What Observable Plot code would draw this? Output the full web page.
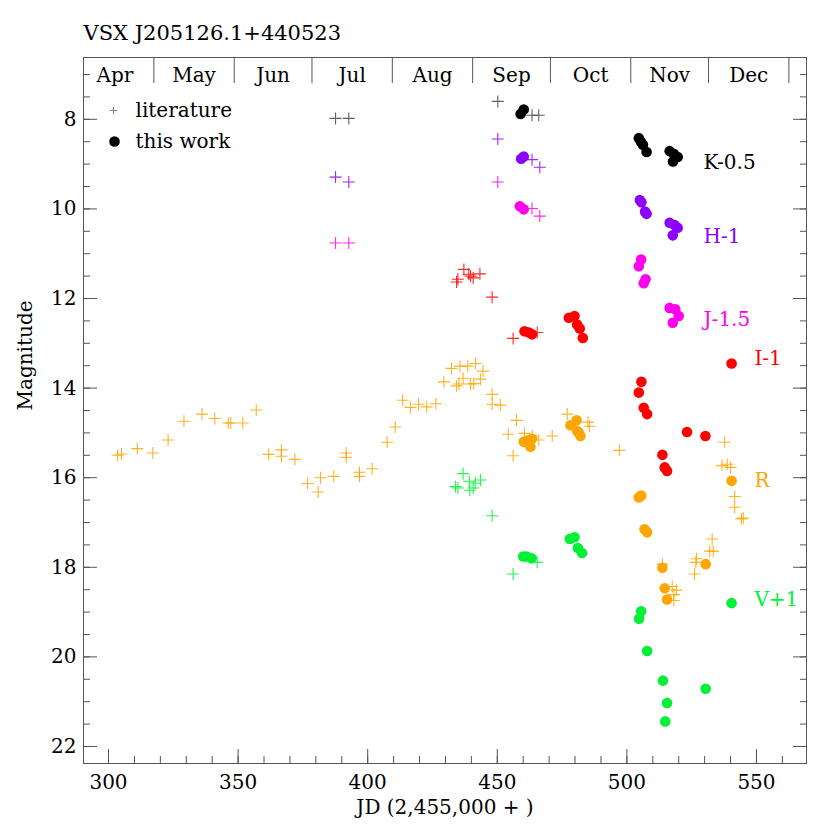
<!DOCTYPE html>
<html><head><meta charset="utf-8">
<script src="https://cdn.jsdelivr.net/npm/d3@7"></script>
<script src="https://cdn.jsdelivr.net/npm/@observablehq/plot@0.6"></script>
<style>body{margin:0;background:#fff}</style>
</head><body><div id="chart"></div>
<script>
// ---- data (JD - 2,455,000, magnitude) ----
const titleText = "VSX J205126.1+440523";
const xLabel = "JD (2,455,000 + )";
const yLabel = "Magnitude";

const monthNames = ["Apr","May","Jun","Jul","Aug","Sep","Oct","Nov","Dec"];
const monthStarts = [287.5,317.5,348.5,378.5,409.5,440.5,470.5,501.5,531.5,562.5];

const xMajor = [300,350,400,450,500,550];
const xMinor = d3.range(300, 561, 10);
const yMajor = [8,10,12,14,16,18,20,22];
const yMinor = d3.range(7, 22.01, 0.5);

const K_lit = [[387.6,7.98],[392.7,7.98],[450.2,7.60],[463.4,7.91],[466.0,7.91]];
const K_work = [[459.0,7.88],[460.2,7.78],[504.6,8.42],[505.4,8.50],[506.2,8.57],[507.6,8.73],[516.5,8.71],[518.1,8.77],[519.6,8.84],[517.8,8.94]];

const H_lit = [[387.6,9.29],[392.7,9.40],[450.2,8.44],[463.4,8.90],[466.4,9.07]];
const H_work = [[459.2,8.88],[460.2,8.83],[505.0,9.80],[505.6,9.85],[507.0,10.06],[507.6,10.11],[516.5,10.31],[518.4,10.36],[519.6,10.42],[517.7,10.59]];

const J_lit = [[387.6,10.76],[392.7,10.76],[450.2,9.40],[463.4,9.99],[466.4,10.16]];
const J_work = [[458.7,9.94],[460.2,10.01],[505.5,11.13],[504.6,11.28],[507.2,11.57],[506.5,11.66],[516.5,12.21],[518.7,12.24],[520.0,12.39],[517.7,12.54]];

const I_lit = [[437.1,11.35],[434.3,11.63],[434.8,11.57],[439.0,11.46],[439.7,11.50],[440.7,11.54],[443.3,11.45],[448.0,11.97],[456.1,12.89],[465.4,12.76]];
const I_work = [[460.5,12.73],[462.2,12.76],[463.4,12.80],[477.6,12.43],[479.8,12.39],[480.8,12.58],[481.8,12.67],[483.0,12.88],[505.6,13.86],[504.6,14.10],[506.5,14.44],[507.8,14.58],[513.7,15.49],[514.6,15.77],[515.5,15.85],[523.2,14.98],[530.3,15.07],[540.4,13.45]];

const R_lit = [[303.5,15.50],[305.0,15.47],[311.1,15.35],[317.1,15.45],[323.0,15.16],[329.1,14.74],[336.1,14.58],[341.0,14.68],[346.2,14.78],[347.2,14.78],[351.8,14.78],[357.0,14.49],[361.8,15.48],[366.7,15.38],[366.7,15.52],[371.9,15.59],[376.8,16.13],[380.9,16.32],[381.8,16.00],[386.9,15.97],[391.7,15.45],[391.7,15.55],[396.8,15.88],[396.8,15.97],[401.7,15.80],[407.5,15.21],[410.6,14.87],[413.5,14.27],[416.5,14.43],[419.6,14.36],[422.8,14.42],[426.3,14.35],[429.4,13.86],[432.3,13.56],[434.3,13.95],[435.2,13.91],[435.6,13.51],[436.8,13.78],[438.6,13.51],[439.7,13.91],[440.9,13.90],[441.6,13.45],[443.5,13.80],[444.5,13.62],[448.0,14.14],[448.0,14.36],[451.2,14.38],[454.2,15.03],[456.1,15.51],[457.4,14.72],[460.5,15.01],[463.5,15.07],[466.0,15.16],[471.2,15.07],[477.0,14.58],[485.0,14.76],[485.6,14.85],[497.1,15.39],[513.7,17.93],[517.5,18.43],[519.1,18.51],[518.1,18.61],[518.1,18.74],[526.1,18.15],[526.6,17.89],[526.9,17.81],[532.0,17.64],[533.3,17.64],[532.9,17.37],[537.7,15.21],[536.7,15.73],[538.7,15.70],[540.0,15.77],[541.6,16.42],[541.6,16.66],[544.2,16.92],[544.9,16.90]];
const R_work = [[460.2,15.20],[461.5,15.17],[463.4,15.13],[462.8,15.31],[478.2,14.83],[480.6,14.72],[480.8,14.96],[481.5,15.00],[482.1,15.07],[504.6,16.44],[505.5,16.40],[506.8,17.15],[507.8,17.22],[513.7,18.01],[514.6,18.47],[515.5,18.72],[530.4,17.93],[540.4,16.07]];

const V_lit = [[436.8,15.91],[433.9,16.20],[434.8,16.23],[439.2,16.08],[441.5,16.12],[443.5,16.05],[439.4,16.28],[440.7,16.23],[448.0,16.85],[456.1,18.15],[465.4,17.89]];
const V_work = [[460.0,17.76],[461.3,17.76],[463.2,17.80],[478.0,17.37],[479.8,17.33],[481.1,17.57],[482.7,17.68],[505.5,18.98],[504.7,19.15],[507.8,19.87],[513.9,20.53],[515.5,21.03],[514.8,21.44],[530.4,20.71],[540.4,18.80]];

const bandLabels = ["K-0.5","H-1","J-1.5","I-1","R","V+1"];
const bandColors = ["#000000","#8c00ff","#ff00ee","#ff0000","#ffa500","#00f035"];
const litColors  = ["#444444","#8c00ff","#ff00ee","#ff0000","#ffa500","#00f035"];
const labelJD  = [529.6,529.6,529.6,549.2,549.2,549.2];
const labelMag = [8.97,10.61,12.47,13.35,16.07,18.72];
const legendLabels = ["literature","this work"];

// ---- build ----
const litSets = [K_lit,H_lit,J_lit,I_lit,R_lit,V_lit];
const workSets = [K_work,H_work,J_work,I_work,R_work,V_work];

const cross = {draw(ctx, size){ const r = Math.sqrt(size/Math.PI); ctx.moveTo(-r,0); ctx.lineTo(r,0); ctx.moveTo(0,-r); ctx.lineTo(0,r); }};

const months = monthNames.map((m,i) => ({name: m, mid: (monthStarts[i]+monthStarts[i+1])/2}));
const labels = bandLabels.map((t,i) => ({t, jd: labelJD[i], mag: labelMag[i], c: bandColors[i]}));

const marks = [];
litSets.forEach((s,i) => marks.push(Plot.dot(s, {x: d=>d[0], y: d=>d[1], symbol: cross, r: 6, fill: "none", stroke: litColors[i], strokeWidth: 1.1, strokeOpacity: 0.85})));
workSets.forEach((s,i) => marks.push(Plot.dot(s, {x: d=>d[0], y: d=>d[1], r: 5.3, fill: bandColors[i], stroke: "none"})));
marks.push(Plot.text(labels, {x: "jd", y: "mag", text: "t", fill: "c", textAnchor: "start", fontSize: 20}));

const tickStroke = "#555";
const plot = Plot.plot({
  width: 830, height: 830,
  marginLeft: 83, marginRight: 24, marginTop: 57, marginBottom: 67,
  style: {fontFamily: "'DejaVu Serif', serif", fontSize: "20px", background: "white", color: "black"},
  x: {domain: [290.35, 569.3]},
  y: {domain: [6.62, 22.38], reverse: true},
  marks: [
    Plot.frame({stroke: tickStroke}),
    Plot.axisY({anchor: "left", ticks: yMinor, tickSize: -7, tickFormat: () => "", label: null, stroke: tickStroke}),
    Plot.axisY({anchor: "left", ticks: yMajor, tickSize: -14, tickPadding: 21, label: null, stroke: tickStroke, fontSize: 20}),
    Plot.axisY({anchor: "right", ticks: yMinor, tickSize: -7, tickFormat: () => "", label: null, stroke: tickStroke}),
    Plot.axisY({anchor: "right", ticks: yMajor, tickSize: -14, tickFormat: () => "", label: null, stroke: tickStroke}),
    Plot.axisX({anchor: "bottom", ticks: xMinor, tickSize: -7, tickFormat: () => "", label: null, stroke: tickStroke}),
    Plot.axisX({anchor: "bottom", ticks: xMajor, tickSize: -14, tickPadding: 25, label: null, stroke: tickStroke, fontSize: 20}),
    Plot.axisX({anchor: "top", ticks: monthStarts.slice(1), tickSize: -25, tickFormat: () => "", label: null, stroke: tickStroke}),
    Plot.text(months, {x: "mid", text: "name", frameAnchor: "top", lineAnchor: "middle", dy: 18, fontSize: 20}),
    Plot.text([titleText], {frameAnchor: "top-left", lineAnchor: "middle", textAnchor: "start", dy: -24, fontSize: 21}),
    Plot.text([xLabel], {frameAnchor: "bottom", lineAnchor: "middle", dy: 44, fontSize: 20}),
    Plot.text([yLabel], {frameAnchor: "left", lineAnchor: "middle", dx: -58, rotate: -90, fontSize: 20}),
    Plot.dot([legendLabels[0]], {frameAnchor: "top-left", dx: 30, dy: 53, symbol: cross, r: 3.8, fill: "none", stroke: "#888", strokeWidth: 1.1}),
    Plot.dot([legendLabels[1]], {frameAnchor: "top-left", dx: 31, dy: 84, r: 5.3, fill: "black"}),
    Plot.text([legendLabels[0]], {frameAnchor: "top-left", lineAnchor: "middle", textAnchor: "start", dx: 52, dy: 53, fontSize: 20}),
    Plot.text([legendLabels[1]], {frameAnchor: "top-left", lineAnchor: "middle", textAnchor: "start", dx: 52, dy: 84, fontSize: 20}),
    ...marks
  ]
});
document.getElementById("chart").appendChild(plot);
</script>
</body></html>
